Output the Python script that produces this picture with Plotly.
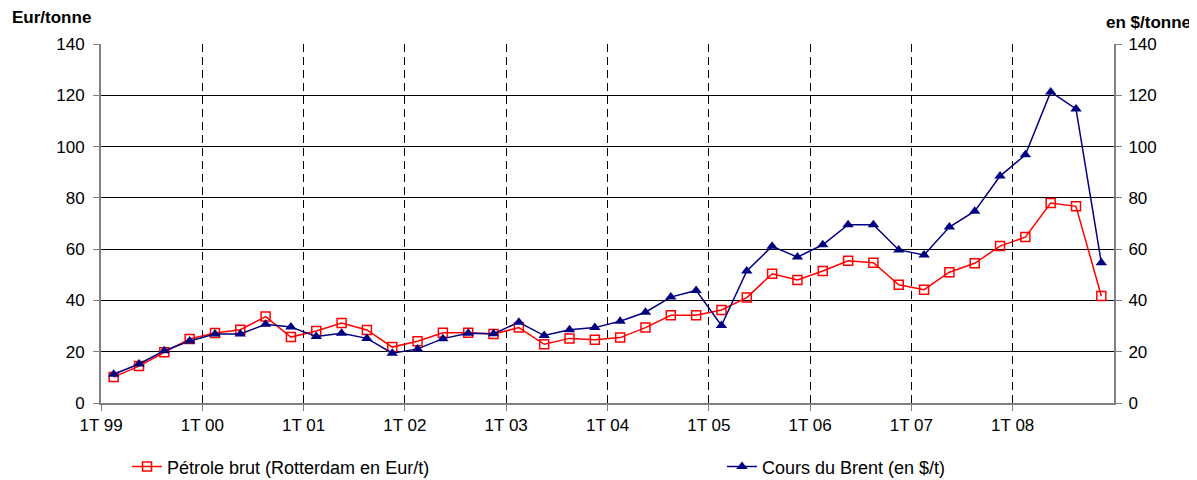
import plotly.graph_objects as go

years = ["99", "00", "01", "02", "03", "04", "05", "06", "07", "08"]
tick_labels = ["1T " + y for y in years]
quarters = [f"{q}T {y}" for y in years for q in range(1, 5)]

petrole = [10.1, 14.4, 19.8, 25.0, 27.3, 28.6, 33.7, 25.7, 28.1, 31.2,
           28.5, 21.8, 24.1, 27.4, 27.4, 26.9, 29.4, 22.9, 25.2, 24.7,
           25.5, 29.4, 34.2, 34.2, 36.3, 41.1, 50.4, 48.0, 51.5, 55.5,
           54.7, 46.1, 44.2, 51.0, 54.5, 61.2, 64.7, 78.0, 76.7, 41.7]
brent = [11.2, 15.2, 20.4, 24.2, 26.9, 26.9, 30.7, 29.6, 25.9, 27.2,
         25.2, 19.4, 21.1, 25.1, 27.2, 27.0, 31.5, 26.3, 28.6, 29.4,
         31.9, 35.4, 41.3, 43.9, 30.2, 51.5, 61.1, 56.9, 61.7, 69.5,
         69.5, 59.7, 57.7, 68.6, 74.8, 88.5, 96.8, 121.3, 114.7, 54.7]

xpos = [i + 0.5 for i in range(len(quarters))]
tickpos = [i * 4 for i in range(len(years))]

FONT = "Liberation Sans, Arial, sans-serif"

fig = go.Figure()
fig.add_trace(go.Scatter(
    x=xpos, y=petrole, name="Pétrole brut (Rotterdam en Eur/t)",
    mode="lines+markers", text=quarters, legend="legend",
    line=dict(color="#FF0000", width=1.5),
    marker=dict(symbol="square-open", size=9, color="#FF0000", line=dict(width=1.5)),
    yaxis="y"))
fig.add_trace(go.Scatter(
    x=xpos, y=brent, name="Cours du Brent (en $/t)",
    mode="lines+markers", text=quarters, legend="legend2",
    line=dict(color="#000080", width=1.5),
    marker=dict(symbol="triangle-up", size=10, color="#000080"),
    yaxis="y2"))

legend_common = dict(orientation="h", y=-0.178, xanchor="left", yanchor="middle",
                     font=dict(family=FONT, size=18, color="black"),
                     bgcolor="rgba(0,0,0,0)")

fig.update_layout(
    width=1189, height=472,
    margin=dict(l=93, r=83, t=36, b=77, autoexpand=False),
    paper_bgcolor="white", plot_bgcolor="white",
    font=dict(family=FONT, size=17, color="black"),
    showlegend=True,
    legend=dict(x=0.0257, **legend_common),
    legend2=dict(x=0.613, **legend_common),
    xaxis=dict(range=[0, 40], tickvals=tickpos, ticktext=tick_labels,
               showgrid=True, gridcolor="black", gridwidth=1, griddash="8px,5px",
               showline=True, linecolor="#808080", linewidth=2,
               ticks="outside", ticklen=6, tickcolor="#808080",
               zeroline=False, tickfont=dict(size=17)),
    yaxis=dict(range=[0, 140], dtick=20, showgrid=True, gridcolor="black", gridwidth=1,
               showline=True, linecolor="#808080", linewidth=2,
               ticks="outside", ticklen=6, tickcolor="#808080", ticklabelstandoff=5,
               zeroline=False, tickfont=dict(size=17)),
    yaxis2=dict(range=[0, 140], dtick=20, overlaying="y", side="right", showgrid=False,
                showline=True, linecolor="#808080", linewidth=2,
                ticks="outside", ticklen=6, tickcolor="#808080", ticklabelstandoff=3,
                zeroline=False, tickfont=dict(size=17)),
    annotations=[
        dict(text="<b>Eur/tonne</b>", xref="paper", yref="paper", x=-0.0898, y=1.075,
             xanchor="left", yanchor="middle", showarrow=False, font=dict(size=17)),
        dict(text="<b>en $/tonne</b>", xref="paper", yref="paper", x=1.078, y=1.061,
             xanchor="right", yanchor="middle", showarrow=False, font=dict(size=17)),
    ],
)

fig.write_html("out.html")
